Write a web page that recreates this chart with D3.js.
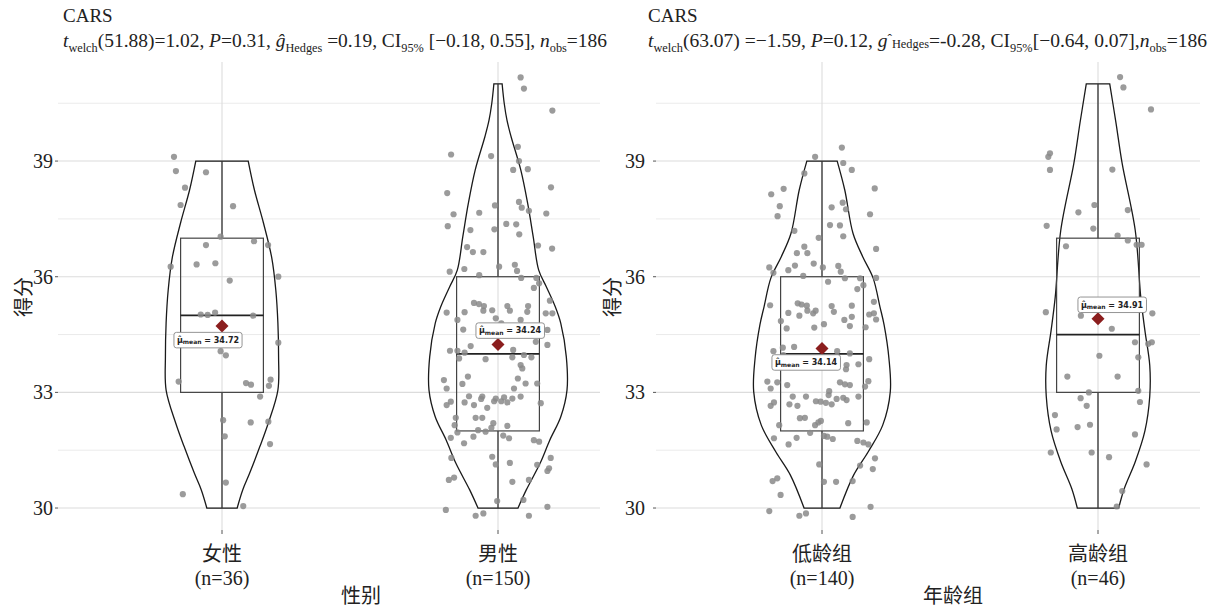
<!DOCTYPE html>
<html><head><meta charset="utf-8">
<script src="https://cdn.jsdelivr.net/npm/d3@7"></script>
<style>body{margin:0;background:#fff}svg{display:block}</style>
</head><body>
<svg id="chart" width="1215" height="609"></svg>
<script>
// ---------------- DATA ----------------
const panelTitles = ["CARS", "CARS"];
const xAxisTitles = ["性别", "年龄组"];
const yAxisTitle = "得分";
const yTicks = [30, 33, 36, 39];
const yMinorTicks = [31.5, 34.5, 37.5, 40.5];

const genderCategories = ["女性", "男性"];
const genderN = [36, 150];
const ageCategories = ["低龄组", "高龄组"];
const ageN = [140, 46];

// box stats: [whiskerLow, q1, median, q3, whiskerHigh]
const genderBoxes = [[30, 33, 35, 37, 39], [30, 32, 34, 36, 41]];
const ageBoxes = [[30, 32, 34, 36, 39], [30, 33, 34.5, 37, 41]];
const genderMeans = [34.72, 34.24];
const ageMeans = [34.14, 34.91];

// violin outlines: [score, relative density]
const violinFemale = [[39,0.38],[38.25,0.47],[37.4,0.60],[36.5,0.72],[35.65,0.78],[34.8,0.81],[33.93,0.82],[33.06,0.81],[32.2,0.67],[31.6,0.55],[30.9,0.40],[30.47,0.30],[30,0.22]];
const violinMale = [[41,0.06],[40.5,0.09],[40.06,0.13],[39.63,0.19],[38.77,0.33],[37.9,0.43],[37.04,0.51],[36.17,0.59],[35.74,0.70],[35.22,0.83],[34.79,0.91],[33.92,0.99],[33.06,1.0],[32.37,0.91],[31.76,0.75],[31.16,0.61],[30.47,0.41],[30,0.29]];
const violinLow = [[39,0.22],[38.25,0.33],[37.12,0.45],[36.52,0.59],[35.97,0.74],[35.22,0.84],[34.75,0.90],[33.88,0.97],[33.02,0.99],[32.15,0.88],[31.46,0.67],[30.86,0.46],[30,0.26]];
const violinHigh = [[41,0.17],[40,0.26],[38.94,0.35],[37.2,0.54],[35.47,0.62],[34.6,0.68],[33.7,0.75],[32.9,0.75],[32.0,0.68],[31.2,0.54],[30.5,0.38],[30,0.30]];

// raw points: [jitter (category units), score]
const pointsFemale = [[-0.174,39.11],[-0.167,38.74],[-0.058,38.71],[-0.134,38.31],[-0.150,37.86],[0.040,37.83],[-0.005,37.04],[0.116,36.92],[0.167,36.82],[-0.058,36.82],[-0.186,36.26],[-0.092,36.32],[-0.024,36.35],[0.204,36.0],[0.028,35.9],[-0.077,35.02],[-0.052,35.01],[-0.025,35.07],[0.113,34.99],[0.204,34.29],[-0.005,34.07],[0.014,33.96],[-0.157,33.28],[0.087,33.24],[0.105,33.2],[0.176,33.33],[0.170,33.17],[0.138,32.89],[0.004,32.28],[0.104,32.22],[0.168,32.24],[0.010,31.86],[0.174,31.66],[0.014,30.66],[-0.142,30.36],[0.077,30.05]];
const pointsMale = [[0.082,41.17],[0.094,40.88],[0.197,40.31],[-0.170,39.17],[-0.025,39.13],[0.072,39.37],[0.076,39.0],[0.055,38.77],[0.108,38.79],[-0.184,38.17],[0.192,38.32],[-0.011,37.85],[0.076,37.94],[0.086,37.79],[0.112,37.71],[-0.161,37.62],[-0.068,37.66],[0.175,37.64],[-0.182,37.31],[-0.100,37.21],[-0.013,37.23],[0.030,37.37],[0.066,37.36],[0.077,37.10],[0.145,36.81],[0.196,36.73],[-0.112,36.77],[-0.091,36.64],[-0.053,36.64],[-0.175,36.13],[-0.122,36.20],[-0.068,36.04],[0.004,36.26],[0.061,36.31],[0.069,36.15],[0.084,35.97],[0.139,35.97],[0.149,35.83],[0.130,35.71],
[-0.087,35.32],[-0.069,35.29],[-0.051,35.24],[-0.186,35.07],[-0.121,35.08],[-0.053,35.12],[-0.021,35.13],[0.034,35.24],[0.043,35.12],[0.109,35.24],[0.106,35.09],[0.188,35.38],[0.173,35.05],[0.197,35.05],[-0.147,34.88],[-0.008,34.92],[0.082,34.88],[0.012,34.79],[-0.126,34.63],[0.179,34.62],[0.155,34.53],[0.179,34.23],[0.137,34.31],[-0.099,34.20],[-0.174,34.08],[-0.147,34.08],[-0.121,34.03],[0.055,34.10],[-0.045,33.86],[0.052,33.91],[0.094,33.97],[0.121,33.91],[-0.141,33.88],[0.082,33.71],[0.088,33.62],[-0.109,33.41],[0.072,33.36],[-0.196,33.32],[0.142,33.23],[-0.129,33.22],[-0.186,33.10],[0.058,33.10],[0.100,33.23],[-0.105,32.90],[-0.057,32.89],[-0.008,32.84],[0.022,32.87],[0.052,32.84],[0.082,32.89],
[-0.186,32.67],[-0.171,32.76],[-0.121,32.74],[-0.087,32.67],[-0.061,32.83],[-0.039,32.60],[-0.014,32.77],[0.012,32.77],[0.034,32.74],[0.155,32.72],[-0.153,32.34],[-0.081,32.34],[-0.057,32.34],[-0.157,32.15],[-0.017,32.20],[-0.024,32.08],[0.034,32.13],[-0.072,32.02],[-0.045,31.98],[-0.147,31.96],[-0.171,31.82],[-0.089,31.85],[0.019,31.88],[0.040,31.81],[-0.123,31.68],[0.130,31.76],[0.149,31.72],[-0.169,31.30],[-0.021,31.33],[0.191,31.30],[-0.008,31.13],[0.043,31.17],[0.142,31.12],[0.185,31.03],[0.179,30.96],[-0.178,30.73],[-0.159,30.79],[0.052,30.68],[0.112,30.73],[-0.003,30.18],[0.092,30.21],[-0.189,29.95],[-0.081,29.80],[-0.053,29.86],[0.112,29.80],[0.179,30.03]];
const pointsLow = [[0.072,39.35],[-0.025,39.11],[0.077,38.95],[0.108,38.77],[-0.064,38.68],[-0.184,38.14],[-0.139,38.28],[0.191,38.29],[-0.153,37.83],[-0.161,37.57],[0.035,37.80],[0.075,37.92],[0.087,37.75],[0.174,37.62],[0.029,37.34],[0.065,37.33],[0.077,37.05],[-0.100,37.19],[-0.012,37.01],[-0.064,36.78],[-0.091,36.61],[-0.053,36.61],[0.196,36.72],[-0.191,36.24],[-0.176,36.10],[-0.122,36.17],[-0.098,36.29],[-0.030,36.34],[0.003,36.24],[0.059,36.28],[0.068,36.13],[-0.068,36.02],[0.083,35.96],[0.196,35.97],[0.022,35.87],[0.138,35.96],[0.150,35.78],[0.128,35.68],[-0.188,35.26],[-0.088,35.31],[-0.074,35.28],[-0.055,35.25],[0.035,35.24],[0.108,35.25],[0.188,35.35],[-0.122,35.06],[-0.082,34.99],[-0.053,35.12],[-0.032,35.05],[-0.023,35.12],[0.043,35.09],[0.108,34.96],[0.171,35.02],[0.188,35.05],[0.196,34.89],[-0.149,34.85],[0.007,34.77],[0.081,34.88],[0.101,34.72],[-0.128,34.66],[-0.028,34.68],[0.158,34.69],
[-0.176,34.07],[-0.142,34.16],[-0.101,34.18],[-0.140,33.97],[0.055,34.07],[0.101,34.01],[0.041,33.84],[0.089,33.71],[0.087,33.60],[0.171,33.86],[0.132,33.73],[-0.198,33.28],[-0.162,33.26],[-0.126,33.19],[-0.186,33.10],[0.065,33.26],[0.083,33.21],[0.101,33.19],[0.168,33.29],[0.156,33.15],[0.026,33.03],[0.024,32.93],[-0.106,32.89],[-0.058,32.89],[-0.022,32.77],[-0.005,32.76],[0.014,32.73],[0.035,32.69],[0.053,32.83],[0.077,32.86],[0.089,32.80],[0.132,32.89],[-0.186,32.65],[-0.174,32.74],[-0.118,32.69],[-0.089,32.65],[-0.080,32.33],[-0.062,32.34],[-0.025,32.15],[-0.013,32.22],[-0.004,32.26],[-0.155,32.15],[0.095,32.20],[0.162,32.22],[-0.043,31.95],[0.007,31.87],[0.019,31.85],[0.039,31.79],[-0.174,31.81],[-0.092,31.82],[-0.121,31.65],[0.128,31.74],[0.150,31.70],[0.168,31.65],[0.192,31.29],[-0.010,31.13],[0.138,31.10],[0.184,31.01],[-0.179,30.70],[-0.162,30.77],[0.007,30.68],[0.051,30.68],[0.111,30.70],[-0.150,30.34],[-0.191,29.92],[-0.082,29.80],[-0.058,29.86],[0.111,29.77],[0.176,30.03]];
const pointsHigh = [[0.080,41.18],[0.092,40.91],[0.192,40.34],[-0.174,39.20],[-0.180,39.11],[-0.174,38.77],[0.052,38.78],[-0.013,37.86],[-0.071,37.67],[0.108,37.73],[-0.186,37.32],[-0.017,37.25],[0.071,37.07],[0.108,36.94],[0.140,36.83],[0.158,36.83],[-0.116,36.79],[-0.189,35.08],[-0.062,34.99],[0.197,35.05],[0.050,34.65],[0.134,34.30],[0.182,34.26],[0.195,34.30],[0.005,33.95],[0.146,33.91],[-0.111,33.41],[0.071,33.41],[-0.033,33.0],[0.146,33.04],[-0.063,32.85],[-0.041,32.65],[0.152,32.75],[-0.156,32.41],[-0.029,32.16],[-0.150,32.04],[-0.074,32.10],[0.134,31.91],[-0.171,31.44],[-0.023,31.44],[0.040,31.32],[0.176,31.13],[0.088,30.44],[0.068,30.04]];

// ---------------- LAYOUT ----------------
const svg = d3.select("#chart");
const serif = "'Liberation Serif','Times New Roman','Noto Sans CJK SC',serif";
const cjk = "'Liberation Serif','Noto Sans CJK SC',serif";
const plotTop = 62, plotBottom = 530;
const y = d3.scaleLinear().domain([29.43, 41.57]).range([plotBottom, plotTop]);
const wScale = d3.scaleLinear().domain([0, 1]).range([0, 69]);

const panels = [
  { title: panelTitles[0], xTitle: xAxisTitles[0], cats: genderCategories, ns: genderN, boxes: genderBoxes, means: genderMeans,
    violins: [violinFemale, violinMale], points: [pointsFemale, pointsMale],
    left: 58, right: 600, cat0: 222, cat1: 498, titleX: 63, tickX: 53, yTitleX: 24, xTitleX: 361,
    labelPos: [[-14, 14], [12, -14]] },
  { title: panelTitles[1], xTitle: xAxisTitles[1], cats: ageCategories, ns: ageN, boxes: ageBoxes, means: ageMeans,
    violins: [violinLow, violinHigh], points: [pointsLow, pointsHigh],
    left: 656, right: 1200, cat0: 822, cat1: 1098, titleX: 648, tickX: 645, yTitleX: 613, xTitleX: 953,
    labelPos: [[-16, 14], [14, -14]] }
];

panels.forEach(p => {
  const g = svg.append("g");
  const x = d3.scaleLinear().domain([0, 1]).range([p.cat0, p.cat1]);
  const step = p.cat1 - p.cat0;

  // grid
  g.selectAll(".minor").data(yMinorTicks).join("line")
    .attr("x1", p.left).attr("x2", p.right).attr("y1", d => y(d)).attr("y2", d => y(d))
    .attr("stroke", "#ebebeb").attr("stroke-width", 1);
  g.selectAll(".major").data(yTicks).join("line")
    .attr("x1", p.left).attr("x2", p.right).attr("y1", d => y(d)).attr("y2", d => y(d))
    .attr("stroke", "#dcdcdc").attr("stroke-width", 1.1);
  g.selectAll(".vgrid").data(p.cats).join("line")
    .attr("x1", (d, i) => x(i)).attr("x2", (d, i) => x(i)).attr("y1", plotTop).attr("y2", plotBottom)
    .attr("stroke", "#dcdcdc").attr("stroke-width", 1.1);

  // y axis ticks and labels
  g.selectAll(".ytick").data(yTicks).join("line")
    .attr("x1", p.left - 3).attr("x2", p.left).attr("y1", d => y(d)).attr("y2", d => y(d))
    .attr("stroke", "#555").attr("stroke-width", 1);
  g.selectAll(".ylab").data(yTicks).join("text")
    .attr("x", p.tickX).attr("y", d => y(d)).attr("dy", "0.35em").attr("text-anchor", "end")
    .attr("font-family", serif).attr("font-size", 20).attr("fill", "#222").text(d => d);
  g.append("text").attr("transform", `translate(${p.yTitleX},297) rotate(-90)`)
    .attr("text-anchor", "middle").attr("dy", "0.35em").attr("font-family", cjk).attr("font-size", 20)
    .attr("fill", "#222").text(yAxisTitle);

  // x axis ticks and labels
  g.selectAll(".xtick").data(p.cats).join("line")
    .attr("x1", (d, i) => x(i)).attr("x2", (d, i) => x(i)).attr("y1", plotBottom).attr("y2", plotBottom + 4)
    .attr("stroke", "#555");
  const xl = g.selectAll(".xlab").data(p.cats).join("text")
    .attr("text-anchor", "middle").attr("font-family", cjk).attr("font-size", 20).attr("fill", "#222");
  xl.append("tspan").attr("x", (d, i) => x(i)).attr("y", 561).text(d => d);
  xl.append("tspan").attr("x", (d, i) => x(i)).attr("y", 585).text((d, i) => `(n=${p.ns[i]})`);
  g.append("text").attr("x", p.xTitleX).attr("y", 603).attr("text-anchor", "middle")
    .attr("font-family", cjk).attr("font-size", 20).attr("fill", "#222").text(p.xTitle);

  // violins
  p.violins.forEach((v, i) => {
    const cx = x(i);
    const right = v.map(d => [cx + wScale(d[1]), y(d[0])]);
    const left = v.slice().reverse().map(d => [cx - wScale(d[1]), y(d[0])]);
    const line = d3.line().curve(d3.curveCatmullRom.alpha(0.5));
    const path = line(right) + "L" + line(left).slice(1) + "Z";
    g.append("path").attr("d", path).attr("fill", "none").attr("stroke", "#1a1a1a").attr("stroke-width", 1.3);
  });

  // boxes
  const bw = 0.3 * step;
  p.boxes.forEach((b, i) => {
    const cx = x(i);
    g.append("line").attr("x1", cx).attr("x2", cx).attr("y1", y(b[0])).attr("y2", y(b[1]))
      .attr("stroke", "#333").attr("stroke-width", 1.3);
    g.append("line").attr("x1", cx).attr("x2", cx).attr("y1", y(b[3])).attr("y2", y(b[4]))
      .attr("stroke", "#333").attr("stroke-width", 1.3);
    g.append("rect").attr("x", cx - bw / 2).attr("width", bw).attr("y", y(b[3])).attr("height", y(b[1]) - y(b[3]))
      .attr("fill", "none").attr("stroke", "#444").attr("stroke-width", 1.2);
    g.append("line").attr("x1", cx - bw / 2).attr("x2", cx + bw / 2).attr("y1", y(b[2])).attr("y2", y(b[2]))
      .attr("stroke", "#222").attr("stroke-width", 1.8);
  });

  // points
  p.points.forEach((pts, i) => {
    g.append("g").selectAll("circle").data(pts).join("circle")
      .attr("cx", d => x(i + d[0])).attr("cy", d => y(d[1])).attr("r", 3.1)
      .attr("fill", "#8a8a8a").attr("fill-opacity", 0.85);
  });

  // means
  p.means.forEach((m, i) => {
    const cx = x(i), cy = y(m);
    g.append("path").attr("d", d3.symbol(d3.symbolSquare, 85)())
      .attr("transform", `translate(${cx},${cy}) rotate(45)`).attr("fill", "#8b1e1e");
    const lp = p.labelPos[i];
    const lg = g.append("g").attr("transform", `translate(${cx + lp[0]},${cy + lp[1]})`);
    const t = lg.append("text").attr("text-anchor", "middle").attr("dy", "0.35em")
      .attr("font-family", "'DejaVu Sans',sans-serif").attr("font-size", 8).attr("font-weight", "bold").attr("fill", "#222");
    t.append("tspan").text("μ̂");
    t.append("tspan").attr("font-size", 6).attr("dy", 1.5).text("mean");
    t.append("tspan").attr("dy", -1.5).text(" = " + m.toFixed(2));
    const bb = t.node().getBBox();
    lg.insert("rect", "text").attr("x", bb.x - 3).attr("y", bb.y - 2.5).attr("width", bb.width + 6).attr("height", bb.height + 5)
      .attr("rx", 2.5).attr("fill", "#fff").attr("stroke", "#888").attr("stroke-width", 0.9);
  });

  // titles
  svg.append("text").attr("x", p.titleX).attr("y", 22).attr("font-family", serif).attr("font-size", 19)
    .attr("fill", "#222").text(p.title);
});

// subtitles
function subtitle(xPos, parts, len) {
  const t = svg.append("text").attr("x", xPos).attr("y", 47).attr("font-family", serif)
    .attr("font-size", 19).attr("fill", "#222").attr("textLength", len).attr("lengthAdjust", "spacingAndGlyphs");
  parts.forEach(pt => {
    const s = t.append("tspan").text(pt.t);
    if (pt.i) s.attr("font-style", "italic");
    if (pt.sub) s.attr("font-size", 12).attr("dy", 5);
    if (pt.sup) s.attr("font-size", 13).attr("dy", pt.sup);
    if (pt.dy) s.attr("dy", pt.dy);
  });
}
const statL = ["51.88", "1.02", "0.31", "0.19", "−0.18", "0.55", "186"];
const statR = ["63.07", "−1.59", "0.12", "-0.28", "−0.64", "0.07", "186"];
subtitle(63, [
  { t: "t", i: true }, { t: "welch", sub: true }, { t: `(${statL[0]})=${statL[1]}, `, dy: -5 },
  { t: "P", i: true }, { t: `=${statL[2]}, ` }, { t: "ĝ", i: true }, { t: "Hedges", sub: true },
  { t: ` =${statL[3]},  CI`, dy: -5 }, { t: "95%", sub: true }, { t: ` [${statL[4]}, ${statL[5]}], `, dy: -5 },
  { t: "n", i: true }, { t: "obs", sub: true }, { t: `=${statL[6]}`, dy: -5 }
], 544);
subtitle(648, [
  { t: "t", i: true }, { t: "welch", sub: true }, { t: `(${statR[0]}) =${statR[1]}, `, dy: -5 },
  { t: "P", i: true }, { t: `=${statR[2]}, ` }, { t: "g", i: true }, { t: "ˆ", sup: -4 }, { t: "Hedges", sub: true, },
  { t: `=${statR[3]}, CI`, dy: -1 }, { t: "95%", sub: true }, { t: `[${statR[4]}, ${statR[5]}],`, dy: -5 },
  { t: "n", i: true }, { t: "obs", sub: true }, { t: `=${statR[6]}`, dy: -5 }
], 559);
</script>
</body></html>
